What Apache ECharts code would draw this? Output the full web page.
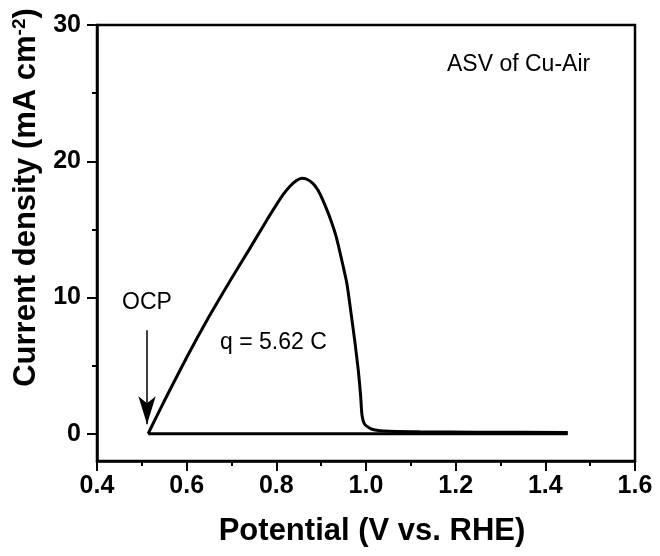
<!DOCTYPE html>
<html>
<head>
<meta charset="utf-8">
<script src="https://cdn.jsdelivr.net/npm/echarts@6/dist/echarts.min.js"></script>
<style>html,body{margin:0;padding:0;background:#fff;}#c{width:660px;height:556px;}</style>
</head>
<body>
<div id="c"></div>
<script>
// Anodic sweep (V vs. RHE) and current density (mA cm^-2)
var potential = [0.514, 0.55, 0.60, 0.65, 0.70, 0.74, 0.76, 0.78, 0.80, 0.815, 0.83, 0.845, 0.857, 0.868, 0.882, 0.893, 0.904, 0.919, 0.934, 0.949, 0.958, 0.966, 0.975, 0.983, 0.988, 0.991, 0.997, 1.012, 1.04, 1.12, 1.25, 1.45];
var current   = [0,     2.4,  5.6,  8.6,  11.4, 13.55, 14.65, 15.75, 16.8, 17.55, 18.15, 18.58, 18.75, 18.68, 18.36, 17.87, 17.13, 15.9, 14.4, 12.3, 10.9, 9.0, 6.8, 4.6, 2.8, 1.4, 0.7, 0.35, 0.2, 0.14, 0.11, 0.1];
var basePotential = [0.514, 1.45];
var baseCurrent   = [0, 0];
var yMajorTicks = [0, 10, 20, 30];
var yMinorTicks = [5, 15, 25];
var ocpArrow = { x: 0.5116, from: 7.6, to: 0.7 };

var font = '"Liberation Sans", Arial, sans-serif';
function pairs(xs, ys) { return xs.map(function (x, i) { return [x, ys[i]]; }); }

var chart = echarts.init(document.getElementById('c'), null, { renderer: 'canvas' });
chart.setOption({
  animation: false,
  backgroundColor: '#fff',
  grid: { left: 97, right: 25, top: 25, bottom: 95, show: true, borderColor: '#000', borderWidth: 2.5, backgroundColor: 'transparent' },
  xAxis: {
    type: 'value', min: 0.4, max: 1.6, interval: 0.2,
    name: 'Potential (V vs. RHE)', nameLocation: 'middle', nameGap: 55,
    nameTextStyle: { fontFamily: font, fontWeight: 'bold', fontSize: 31, color: '#000', padding: [0, 0, 0, 12] },
    axisLine: { show: true, onZero: false, lineStyle: { color: '#000', width: 2.5 } },
    axisTick: { show: true, inside: false, length: 10, lineStyle: { color: '#000', width: 2 } },
    minorTick: { show: true, splitNumber: 2, length: 5, lineStyle: { color: '#000', width: 2 } },
    axisLabel: { margin: 13, fontFamily: font, fontWeight: 'bold', fontSize: 25, color: '#000', formatter: function (v) { return v.toFixed(1); } },
    splitLine: { show: false }, minorSplitLine: { show: false }
  },
  yAxis: [{
    type: 'value', min: -2, max: 30,
    name: 'Current density (mA cm{sup|-2})', nameLocation: 'middle', nameGap: 48, nameRotate: 90,
    nameTextStyle: { fontFamily: font, fontWeight: 'bold', fontSize: 31, color: '#000', padding: [0, 0, 0, 91],
      rich: { sup: { fontFamily: font, fontWeight: 'bold', fontSize: 19, color: '#000', verticalAlign: 'top', padding: [0, 0, 14, 0] } } },
    axisLine: { show: true, onZero: false, lineStyle: { color: '#000', width: 2.5 } },
    axisTick: { show: true, inside: false, length: 10, customValues: yMajorTicks, lineStyle: { color: '#000', width: 2 } },
    axisLabel: { margin: 16, fontFamily: font, fontWeight: 'bold', fontSize: 25, color: '#000', customValues: yMajorTicks },
    splitLine: { show: false }
  }, {
    type: 'value', min: -2, max: 30, position: 'left',
    axisLine: { show: false },
    axisTick: { show: true, inside: false, length: 5, customValues: yMinorTicks, lineStyle: { color: '#000', width: 2 } },
    axisLabel: { show: false },
    splitLine: { show: false }
  }],
  series: [{
    type: 'line', yAxisIndex: 0, data: pairs(potential, current), showSymbol: false, smooth: 0.2,
    lineStyle: { color: '#000', width: 3 }, z: 5,
    markLine: {
      silent: true, symbol: ['none', 'arrow'], symbolSize: [13, 28],
      label: { show: false },
      lineStyle: { color: '#000', width: 1.5, type: 'solid' },
      data: [[{ coord: [ocpArrow.x, ocpArrow.from] }, { coord: [ocpArrow.x, ocpArrow.to] }]]
    }
  }, {
    type: 'line', yAxisIndex: 0, data: pairs(basePotential, baseCurrent), showSymbol: false,
    lineStyle: { color: '#000', width: 3 }, z: 5
  }],
  graphic: [
    { type: 'text', left: 447, top: 53, style: { text: 'ASV of Cu-Air', fontFamily: font, fontSize: 23, fill: '#000' } },
    { type: 'text', left: 122, top: 291, style: { text: 'OCP', fontFamily: font, fontSize: 23, fill: '#000' } },
    { type: 'text', left: 220, top: 331, style: { text: 'q = 5.62 C', fontFamily: font, fontSize: 23, fill: '#000' } }
  ]
});
</script>
</body>
</html>
